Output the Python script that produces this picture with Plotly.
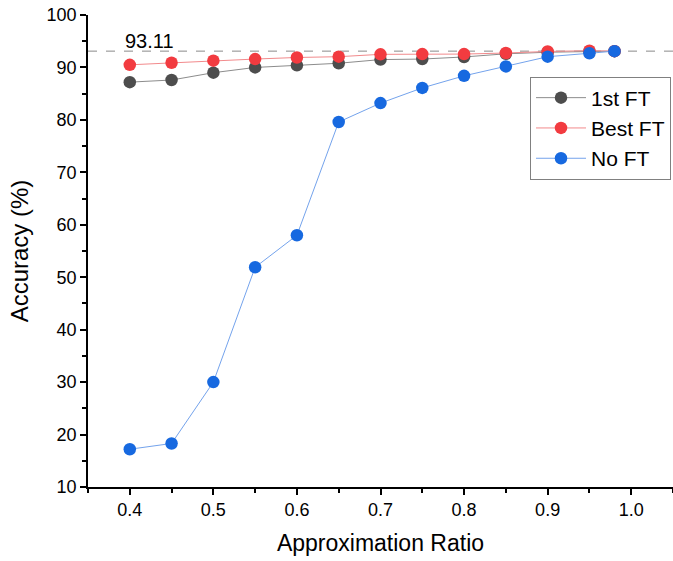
import plotly.graph_objects as go

ratios = [0.4, 0.45, 0.5, 0.55, 0.6, 0.65, 0.7, 0.75, 0.8, 0.85, 0.9, 0.95, 0.98]
first_ft = [87.2, 87.6, 89.0, 90.0, 90.4, 90.8, 91.5, 91.6, 92.0, 92.6, 92.9, 93.05, 93.11]
best_ft = [90.5, 90.9, 91.3, 91.6, 91.9, 92.05, 92.5, 92.55, 92.55, 92.75, 93.05, 93.2, 93.11]
no_ft = [17.2, 18.3, 30.0, 51.9, 58.0, 79.6, 83.2, 86.1, 88.4, 90.2, 92.05, 92.7, 93.11]
baseline = 93.11
series_names = ["1st FT", "Best FT", "No FT"]

FONT = "Liberation Sans, Arial, sans-serif"

fig = go.Figure()

# baseline dashed line
fig.add_shape(type="line", xref="paper", yref="y", x0=0, x1=1, y0=baseline, y1=baseline,
              line=dict(color="#8a8a8a", width=1, dash="dash"), layer="below")

styles = [
    ("#4d4d4d", "#8c8c8c"),
    ("#f23b40", "#f28a8c"),
    ("#1769e0", "#74a3ec"),
]
for name, ys, (mc, lc) in zip(series_names, [first_ft, best_ft, no_ft], styles):
    fig.add_trace(go.Scatter(
        x=ratios, y=ys, name=name, mode="lines+markers",
        line=dict(color=lc, width=1),
        marker=dict(color=mc, size=12.5, line=dict(width=0)),
    ))

fig.add_annotation(x=0.4, y=baseline, xref="x", yref="y", text=f"{baseline:.2f}",
                   showarrow=False, xanchor="left", yanchor="bottom", xshift=-7, yshift=-3,
                   font=dict(family=FONT, size=20, color="#000000"))

axis_common = dict(
    showgrid=False, zeroline=False, showline=True, linecolor="#000000", linewidth=1.5,
    ticks="outside", ticklen=6, tickwidth=1.5, tickcolor="#000000",
    tickfont=dict(family=FONT, size=18, color="#000000"),
    ticklabeloverflow="allow",
    mirror=False,
)

fig.update_xaxes(
    range=[0.35, 1.05], tick0=0.4, dtick=0.1, tickformat=".1f",
    title=dict(text="Approximation Ratio", font=dict(family=FONT, size=23, color="#000000"), standoff=16),
    minor=dict(dtick=0.05, tick0=0.35, ticks="outside", ticklen=4, tickwidth=1.5, tickcolor="#000000"),
    **axis_common,
)
fig.update_yaxes(
    range=[10, 100], tick0=10, dtick=10,
    title=dict(text="Accuracy (%)", font=dict(family=FONT, size=24, color="#000000"), standoff=11),
    minor=dict(dtick=5, tick0=10, ticks="outside", ticklen=4, tickwidth=1.5, tickcolor="#000000"),
    **axis_common,
)

fig.update_layout(
    width=673, height=561,
    margin=dict(l=88, r=0, t=15, b=74, autoexpand=False),
    plot_bgcolor="#ffffff", paper_bgcolor="#ffffff",
    font=dict(family=FONT, color="#000000"),
    legend=dict(
        x=(530 - 88) / 585, y=(487 - 128) / 472, xanchor="left", yanchor="middle",
        bordercolor="#808080", borderwidth=1, bgcolor="#ffffff",
        font=dict(family=FONT, size=21, color="#000000"),
        itemwidth=50, tracegroupgap=0, entrywidth=160, entrywidthmode="pixels",
    ),
    showlegend=True,
)

fig.write_html(
    "out.html",
    config={"displayModeBar": False},
    post_script="document.body.style.margin='0px'; document.body.style.overflow='hidden';",
)
